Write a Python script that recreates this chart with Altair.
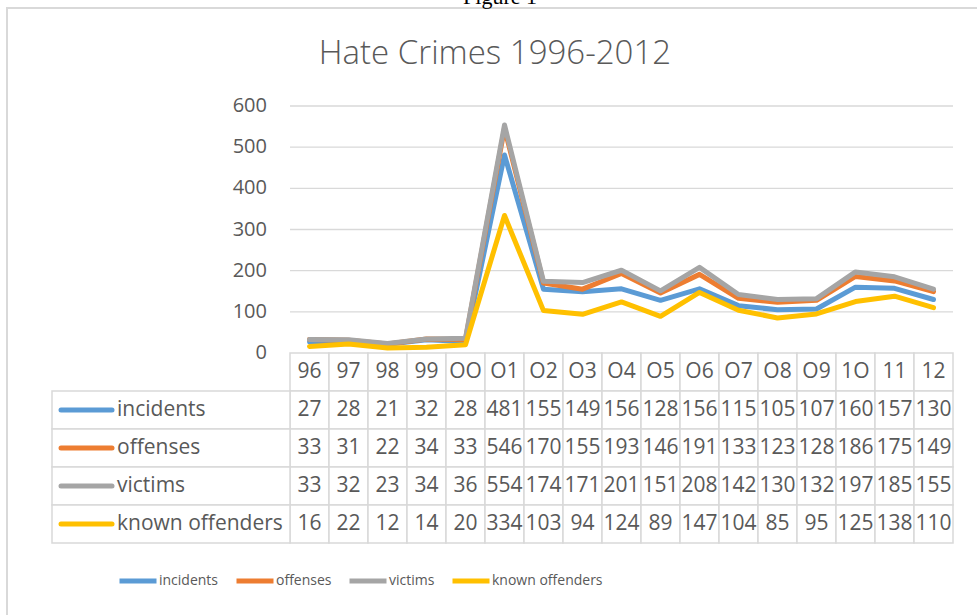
import altair as alt
import pandas as pd

# ---- data ----
years = ["96", "97", "98", "99", "OO", "O1", "O2", "O3", "O4", "O5", "O6",
         "O7", "O8", "O9", "1O", "11", "12"]
series = ["incidents", "offenses", "victims", "known offenders"]
incidents = [27, 28, 21, 32, 28, 481, 155, 149, 156, 128, 156, 115, 105, 107, 160, 157, 130]
offenses = [33, 31, 22, 34, 33, 546, 170, 155, 193, 146, 191, 133, 123, 128, 186, 175, 149]
victims = [33, 32, 23, 34, 36, 554, 174, 171, 201, 151, 208, 142, 130, 132, 197, 185, 155]
known_offenders = [16, 22, 12, 14, 20, 334, 103, 94, 124, 89, 147, 104, 85, 95, 125, 138, 110]
colors = ["#5B9BD5", "#ED7D31", "#A5A5A5", "#FFC000"]
y_ticks = [0, 100, 200, 300, 400, 500, 600]
title_text = "Hate Crimes 1996-2012"
figure_text = "Figure 1"
header_row = "header"

# ---- tables built from the arrays ----
values_by_series = [incidents, offenses, victims, known_offenders]
long = pd.DataFrame([
    {"year": y, "idx": j, "series": s, "value": v}
    for s, vals in zip(series, values_by_series)
    for j, (y, v) in enumerate(zip(years, vals))
])
table = pd.concat([
    pd.DataFrame({"year": years, "row": header_row, "label": years}),
    pd.DataFrame({"year": long["year"], "row": long["series"],
                  "label": long["value"].astype(str)}),
], ignore_index=True)
series_df = pd.DataFrame({"series": series})
ticks_df = pd.DataFrame({"tick": y_ticks})
one = pd.DataFrame({"a": [0]})

TEXT = "#595959"
GRID = "#d9d9d9"
SANS = "Open Sans, sans-serif"

x_band = alt.Scale(domain=years, range=[290, 953], paddingInner=0, paddingOuter=0)
x_point = alt.Scale(type="point", domain=years, range=[290, 953], padding=0.5)
y_val = alt.Scale(domain=[0, 600], range=[353, 106], nice=False)
y_row = alt.Scale(domain=[header_row] + series, range=[353, 543], paddingInner=0, paddingOuter=0)
color_scale = alt.Scale(domain=series, range=colors)

legend = alt.Legend(
    orient="none", legendX=117, legendY=560, direction="horizontal", title=None,
    symbolType="stroke", symbolSize=1369, symbolStrokeWidth=5,
    labelFont=SANS, labelFontSize=14, labelColor=TEXT, labelOffset=0,
    columnPadding=7, padding=0,
)

frame = alt.Chart(one).mark_rect(fill="white", stroke=GRID, strokeWidth=2).encode(
    x=alt.value(7), x2=alt.value(1000), y=alt.value(8), y2=alt.value(650)
)
fig_label = alt.Chart(pd.DataFrame({"t": [figure_text]})).mark_text(
    font="Liberation Serif", fontSize=22, color="black", baseline="alphabetic"
).encode(text="t:N", x=alt.value(500), y=alt.value(4))

title = alt.Chart(pd.DataFrame({"t": [title_text]})).mark_text(
    font=SANS, fontSize=33, fontWeight=300, color=TEXT, baseline="alphabetic"
).encode(text="t:N", x=alt.value(495), y=alt.value(64))

grid = alt.Chart(ticks_df[ticks_df["tick"] > 0]).mark_rule(color=GRID, strokeWidth=1.3).encode(
    y=alt.Y("tick:Q", scale=y_val, axis=None), x=alt.value(290), x2=alt.value(953)
)
ylabels = alt.Chart(ticks_df).mark_text(
    align="right", baseline="middle", font=SANS, fontSize=20, color=TEXT
).encode(y=alt.Y("tick:Q", scale=y_val, axis=None), x=alt.value(267), text="tick:Q")

cells = alt.Chart(table).mark_rect(fill="white", stroke=GRID, strokeWidth=1.5).encode(
    x=alt.X("year:N", scale=x_band, axis=None),
    y=alt.Y("row:N", scale=y_row, axis=None),
)
left_cells = alt.Chart(series_df).mark_rect(fill="white", stroke=GRID, strokeWidth=1.5).encode(
    x=alt.value(52), x2=alt.value(290),
    y=alt.Y("series:N", scale=y_row, axis=None),
)
cell_text = alt.Chart(table).mark_text(
    font=SANS, fontSize=21, color=TEXT, baseline="middle", align="center"
).encode(
    x=alt.X("year:N", scale=x_band, axis=None, bandPosition=0.5),
    y=alt.Y("row:N", scale=y_row, axis=None, bandPosition=0.5),
    text="label:N",
)
key_lines = alt.Chart(series_df).mark_rule(strokeWidth=5, strokeCap="round").encode(
    x=alt.value(61), x2=alt.value(112),
    y=alt.Y("series:N", scale=y_row, axis=None, bandPosition=0.5),
    color=alt.Color("series:N", scale=color_scale, legend=legend),
)
key_text = alt.Chart(series_df).mark_text(
    font=SANS, fontSize=21, color=TEXT, baseline="middle", align="left"
).encode(
    x=alt.value(117),
    y=alt.Y("series:N", scale=y_row, axis=None, bandPosition=0.5),
    text="series:N",
)
lines = alt.Chart(long).mark_line(strokeWidth=5, strokeJoin="round", strokeCap="round").encode(
    x=alt.X("year:N", scale=x_point, axis=None),
    y=alt.Y("value:Q", scale=y_val, axis=None),
    color=alt.Color("series:N", scale=color_scale, legend=legend),
    order=alt.Order("idx:Q"),
)

chart = alt.layer(
    frame, fig_label, title, grid, ylabels, cells, left_cells, cell_text,
    key_lines, key_text, lines,
).resolve_scale(x="independent", y="independent").properties(
    width=977, height=615, padding=0,
    autosize=alt.AutoSizeParams(type="none"),
    background="white",
).configure_view(strokeWidth=0)

chart.save("out.html", embed_options={"renderer": "svg", "actions": False})
